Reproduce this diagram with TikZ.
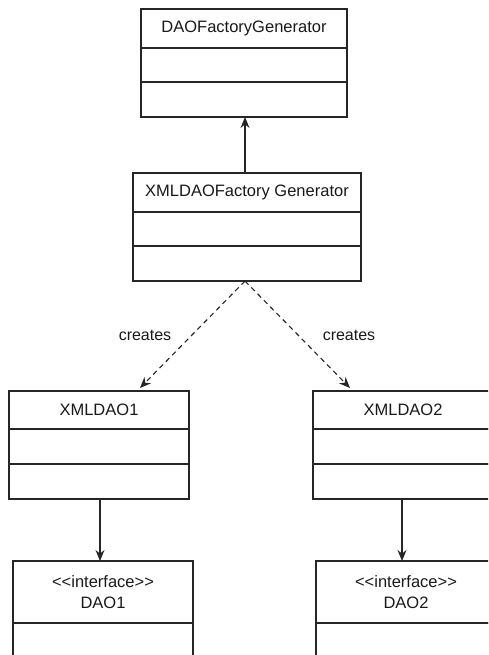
\documentclass[tikz,border=0pt]{standalone}
\usepackage{fontspec}
\setmainfont{Liberation Sans}
\usetikzlibrary{arrows.meta,calc}
\begin{document}
\begin{tikzpicture}[x=1pt,y=-1pt,
  every node/.style={font=\fontsize{16.5}{21}\selectfont, text=black!90},
  comp/.style={draw=black!85, line width=1.2pt, rectangle, inner sep=0pt, outer sep=0pt, anchor=north},
  arr/.style={draw=black!85, line width=1.1pt, -{Stealth[length=11pt,width=9pt]}},
  dasharr/.style={arr, dash pattern=on 5pt off 4pt},
  lbl/.style={font=\fontsize{16}{18}\selectfont}
]
\useasboundingbox (0,0) rectangle (488,655);
\clip (0,0) rectangle (488,655);
% Box 1
\node[comp, minimum width=206pt, minimum height=39pt] (b1) at (244,9) {DAOFactoryGenerator};
\node[comp, minimum width=206pt, minimum height=34pt] (b1b) at (b1.south) {};
\node[comp, minimum width=206pt, minimum height=35pt] (b1c) at (b1b.south) {};
% Box 2
\node[comp, minimum width=228pt, minimum height=39pt] (b2) at (247,173) {XMLDAOFactory Generator};
\node[comp, minimum width=228pt, minimum height=34pt] (b2b) at (b2.south) {};
\node[comp, minimum width=228pt, minimum height=35pt] (b2c) at (b2b.south) {};
% Box 3
\node[comp, minimum width=180pt, minimum height=38pt] (b3) at (99,391) {XMLDAO1};
\node[comp, minimum width=180pt, minimum height=35pt] (b3b) at (b3.south) {};
\node[comp, minimum width=180pt, minimum height=35pt] (b3c) at (b3b.south) {};
% Box 4
\node[comp, minimum width=180pt, minimum height=38pt] (b4) at (403,391) {XMLDAO2};
\node[comp, minimum width=180pt, minimum height=35pt] (b4b) at (b4.south) {};
\node[comp, minimum width=180pt, minimum height=35pt] (b4c) at (b4b.south) {};
% Box 5
\node[comp, minimum width=180pt, minimum height=62pt, align=center] (b5) at (103,561) {<{}<interface>{}>\\DAO1};
\node[comp, minimum width=180pt, minimum height=60pt] (b5b) at (b5.south) {};
% Box 6
\node[comp, minimum width=180pt, minimum height=62pt, align=center] (b6) at (406,561) {<{}<interface>{}>\\DAO2};
\node[comp, minimum width=180pt, minimum height=60pt] (b6b) at (b6.south) {};
% connectors
\draw[arr] ($(b2.north)+(-2,0)$) -- ($(b1c.south)+(1,0)$);
\coordinate (t3) at ($(b3.north)+(41,-3)$);
\coordinate (t4) at ($(b4.north)+(-53,-3)$);
\coordinate (s2) at ($(b2c.south)+(-2,0)$);
\draw[dasharr] (s2) -- (t3);
\draw[dasharr] (s2) -- (t4);
\draw[arr] ($(b3c.south)+(1,0)$) -- ($(b5.north)+(-3,0)$);
\draw[arr] ($(b4c.south)+(-1,0)$) -- ($(b6.north)+(-4,0)$);
\node[lbl] (c1) at (145,335) {creates};
\node[lbl] (c2) at (349,335) {creates};
\end{tikzpicture}
\end{document}
